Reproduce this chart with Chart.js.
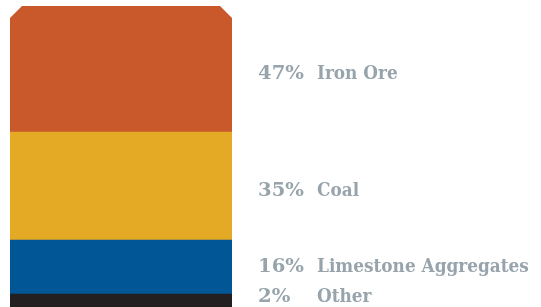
<!DOCTYPE html>
<html>
<head>
<meta charset="utf-8">
<script src="https://cdn.jsdelivr.net/npm/chart.js@4/dist/chart.umd.min.js"></script>
<style>
html,body{margin:0;padding:0;background:#fff;}
#wrap{width:541px;height:307px;position:relative;}
</style>
</head>
<body>
<div id="wrap"><canvas id="c" width="541" height="307"></canvas></div>
<script>
// Categories, top to bottom
const categories = ["Iron Ore", "Coal", "Limestone Aggregates", "Other"];
// Share labels shown next to the bar (%)
const shares = [47, 35, 16, 2];
// Segment sizes as drawn in the picture (relative units)
const segmentSizes = [126, 108, 54, 13];
const colors = ["#c9582a", "#e4a925", "#015695", "#231f20"];

// Stack from bottom: reverse order
const order = [3, 2, 1, 0];
const datasets = order.map(i => ({
  label: categories[i],
  data: [segmentSizes[i]],
  backgroundColor: colors[i],
  borderWidth: 0,
  barPercentage: 1,
  categoryPercentage: 1,
  stack: "s"
}));

const chamferPlugin = {
  id: "chamfer",
  beforeDatasetsDraw(chart) {
    const ctx = chart.ctx;
    const top = chart.getDatasetMeta(datasets.length - 1).data[0];
    const l = top.x - top.width / 2, r = top.x + top.width / 2;
    const t = top.y, b = chart.chartArea.bottom + 5, c = 12;
    ctx.save();
    ctx.beginPath();
    ctx.moveTo(l, t + c);
    ctx.lineTo(l + c, t);
    ctx.lineTo(r - c, t);
    ctx.lineTo(r, t + c);
    ctx.lineTo(r, b);
    ctx.lineTo(l, b);
    ctx.closePath();
    ctx.clip();
  },
  afterDatasetsDraw(chart) {
    chart.ctx.restore();
  }
};

const labelPlugin = {
  id: "sideLabels",
  afterDraw(chart) {
    const ctx = chart.ctx;
    ctx.save();
    let size = 15;
    const fam = '"DejaVu Serif Condensed", "DejaVu Serif", serif';
    ctx.font = `bold ${size}px ${fam}`;
    const w = ctx.measureText("Limestone Aggregates").width;
    size = size * 212 / w;
    ctx.font = `bold ${size}px ${fam}`;
    const pw = ctx.measureText("16%").width;
    const pScale = 46 / pw;
    ctx.fillStyle = "#97a4ac";
    ctx.textBaseline = "middle";
    ctx.textAlign = "left";
    const ys = categories.map((_, i) => {
      const dsIndex = order.indexOf(i);
      const el = chart.getDatasetMeta(dsIndex).data[0];
      return (el.y + el.base) / 2 + 5;
    });
    const maxY = chart.height - 10, gap = 30;
    for (let i = ys.length - 1; i >= 0; i--) {
      const lim = i === ys.length - 1 ? maxY : ys[i + 1] - gap;
      if (ys[i] > lim) ys[i] = lim;
    }
    categories.forEach((name, i) => {
      ctx.save();
      ctx.translate(258, ys[i]);
      ctx.scale(pScale, 1);
      ctx.fillText(shares[i] + "%", 0, 0);
      ctx.restore();
      ctx.fillText(name, 317, ys[i]);
    });
    ctx.restore();
  }
};

const total = segmentSizes.reduce((a, b) => a + b, 0);

new Chart(document.getElementById("c"), {
  type: "bar",
  data: { labels: [""], datasets },
  options: {
    responsive: false,
    animation: false,
    layout: { padding: { left: 10, right: 309, top: 6, bottom: 0 } },
    plugins: { legend: { display: false }, tooltip: { enabled: false } },
    scales: {
      x: { display: false, stacked: true, offset: true },
      y: { display: false, stacked: true, min: 0, max: total }
    }
  },
  plugins: [chamferPlugin, labelPlugin]
});
</script>
</body>
</html>
